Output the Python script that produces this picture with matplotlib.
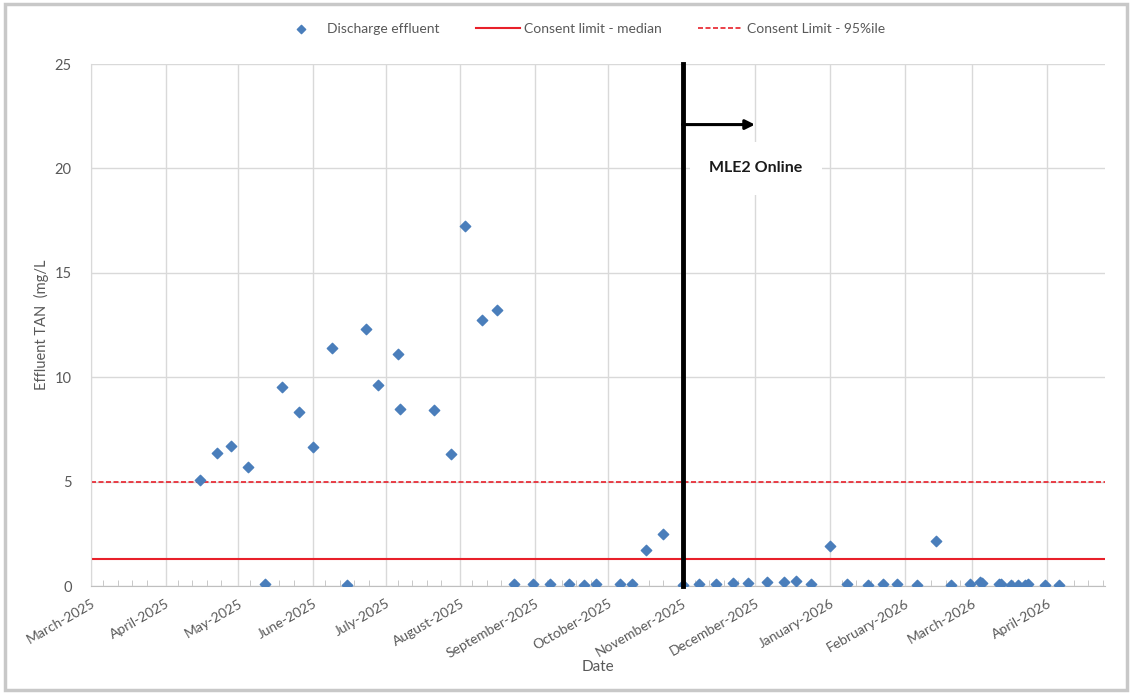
import matplotlib
matplotlib.use("Agg")
import matplotlib.pyplot as plt
import matplotlib.dates as mdates
from matplotlib.patches import Rectangle
import numpy as np
import datetime as dt

plt.rcParams['font.family'] = ['Lato', 'DejaVu Sans']

# Discharge effluent TAN samples (date, mg/L)
sample_dates = [
    "2025-04-15", "2025-04-22", "2025-04-28", "2025-05-05", "2025-05-12",
    "2025-05-19", "2025-05-26", "2025-06-01", "2025-06-09", "2025-06-15",
    "2025-06-23", "2025-06-28", "2025-07-06", "2025-07-07", "2025-07-21",
    "2025-07-28", "2025-08-03", "2025-08-10", "2025-08-16", "2025-08-23",
    "2025-08-31", "2025-09-07", "2025-09-15", "2025-09-21", "2025-09-26",
    "2025-10-06", "2025-10-11", "2025-10-17", "2025-10-24", "2025-11-01",
    "2025-11-08", "2025-11-15", "2025-11-22", "2025-11-28", "2025-12-06",
    "2025-12-13", "2025-12-18", "2025-12-24", "2026-01-01", "2026-01-08",
    "2026-01-17", "2026-01-23", "2026-01-29", "2026-02-06", "2026-02-14",
    "2026-02-20", "2026-02-28", "2026-03-04", "2026-03-05", "2026-03-12",
    "2026-03-13", "2026-03-17", "2026-03-20", "2026-03-23", "2026-03-24",
    "2026-03-31", "2026-04-06",
]
tan_values = [
    5.1, 6.35, 6.7, 5.7, 0.1,
    9.55, 8.35, 6.65, 11.4, 0.05,
    12.3, 9.65, 11.1, 8.5, 8.45,
    6.3, 17.25, 12.75, 13.2, 0.1,
    0.1, 0.1, 0.1, 0.05, 0.1,
    0.1, 0.1, 1.72, 2.5, 0.05,
    0.1, 0.1, 0.15, 0.15, 0.2,
    0.18, 0.25, 0.1, 1.92, 0.1,
    0.05, 0.1, 0.1, 0.05, 2.17,
    0.05, 0.1, 0.2, 0.15, 0.1,
    0.1, 0.05, 0.05, 0.05, 0.1,
    0.05, 0.05,
]
median_limit = 1.3
pct95_limit = 5.0
online_date = "2025-11-01"
arrow_end_date = "2025-12-01"
arrow_level = 22.1
x_start = "2025-03-01"
x_end = "2026-04-25"

dates = [dt.datetime.strptime(d, "%Y-%m-%d") for d in sample_dates]
d0 = dt.datetime.strptime(x_start, "%Y-%m-%d")
d1 = dt.datetime.strptime(x_end, "%Y-%m-%d")
don = dt.datetime.strptime(online_date, "%Y-%m-%d")
darr = dt.datetime.strptime(arrow_end_date, "%Y-%m-%d")

fig = plt.figure(figsize=(11.32, 6.93), dpi=100)
ax = fig.add_axes([0.0804, 0.1544, 0.8958, 0.7532])

# outer frame
fig.patches.append(Rectangle((0.004, 0.004), 0.992, 0.99, transform=fig.transFigure,
                             fill=False, edgecolor='#c8c8c8', linewidth=2.5))

blue = '#4a7ebb'
red = '#e8202a'
gray_txt = '#595959'

ax.scatter(dates, tan_values, marker='D', s=28, color=blue, zorder=3,
           label='Discharge effluent')
ax.axhline(median_limit, color=red, lw=1.5, zorder=2, label='Consent limit - median')
ax.axhline(pct95_limit, color=red, lw=1.2, ls=(0, (3, 1.5)), zorder=2,
           label='Consent Limit - 95%ile')

ax.axvline(don, color='black', lw=3.5, zorder=4, clip_on=False)
ax.annotate('', xy=(darr, arrow_level), xytext=(don, arrow_level),
            arrowprops=dict(arrowstyle='-|>', color='black', lw=2.2,
                            mutation_scale=14, shrinkA=0, shrinkB=0), zorder=5)
ax.text(dt.datetime(2025, 11, 12), 20.0, 'MLE2 Online', fontsize=11.5, fontweight='bold',
        va='center', ha='left', color='#1a1a1a', zorder=5,
        bbox=dict(facecolor='white', edgecolor='none', pad=14))

ax.set_xlim(d0, d1)
ax.set_ylim(0, 25)
ax.set_yticks(np.arange(0, 26, 5))

ax.xaxis.set_major_locator(mdates.MonthLocator())
ax.xaxis.set_major_formatter(mdates.DateFormatter('%B-%Y'))
ax.xaxis.set_minor_locator(mdates.DayLocator(bymonthday=[6, 12, 18, 24]))
for lab in ax.get_xticklabels():
    lab.set_rotation(30)
    lab.set_ha('right')
    lab.set_rotation_mode('anchor')

ax.grid(True, which='major', color='#d9d9d9', lw=1)
ax.set_axisbelow(True)
for s in ['top', 'right']:
    ax.spines[s].set_visible(False)
ax.spines['left'].set_color('#d9d9d9')
ax.spines['bottom'].set_color('#bfbfbf')
ax.tick_params(axis='x', which='major', length=0, labelsize=10, labelcolor=gray_txt, pad=8)
ax.tick_params(axis='x', which='minor', length=4, direction='in', color='#bfbfbf')
ax.tick_params(axis='y', length=0, labelsize=10.5, labelcolor=gray_txt, pad=14)

ax.set_ylabel('Effluent TAN  (mg/L', fontsize=10.5, color=gray_txt, labelpad=4)
ax.set_xlabel('Date', fontsize=11, color=gray_txt, labelpad=0)

leg = fig.legend(loc='upper center', bbox_to_anchor=(0.514, 0.985), ncol=3, frameon=False,
                 fontsize=10, handlelength=3.2, handletextpad=0.3, columnspacing=2.6,
                 markerscale=0.8)
for t in leg.get_texts():
    t.set_color(gray_txt)

fig.savefig('out.png', dpi=100)
